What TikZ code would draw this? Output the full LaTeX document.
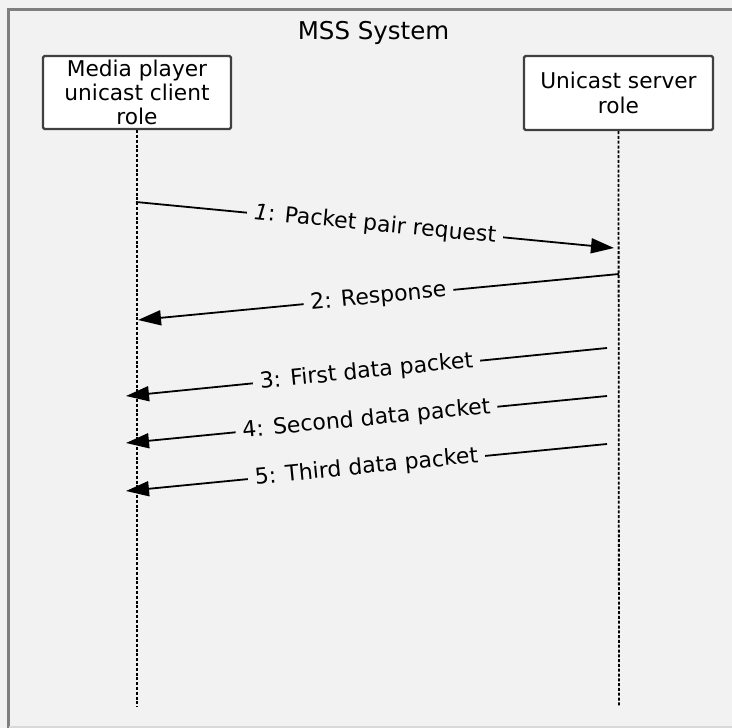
\documentclass[tikz,border=0pt]{standalone}
\usepackage{fontspec}
\setmainfont{DejaVu Sans}
\usetikzlibrary{arrows.meta}
\definecolor{bgc}{HTML}{F2F2F2}
\definecolor{framec}{HTML}{7F7F7F}
\definecolor{boxc}{HTML}{404040}
\tikzset{
  rolebox/.style={draw=boxc, line width=2.2pt, fill=white, rounded corners=1.5pt,
    inner sep=0pt, align=center, font=\fontsize{21.7}{24.3}\selectfont},
  lifeline/.style={line width=1.8pt, dash pattern=on 3pt off 1.8pt},
  msg/.style={line width=1.8pt, -{Triangle[length=23pt,width=15pt]}},
  msglabel/.style={sloped, fill=bgc, inner xsep=7pt, inner ysep=3pt, font=\fontsize{22}{24}\selectfont}
}
\begin{document}
\begin{tikzpicture}[x=1pt,y=-1pt]
\useasboundingbox (0,0) rectangle (732,728);
\fill[bgc] (0,0) rectangle (732,728);
% frame
\draw[framec, line width=3pt] (8.5,740) -- (8.5,9.5) -- (745,9.5);
\draw[black!15, line width=1.5pt] (8.5,727) -- (745,727);
\node[font=\fontsize{24.5}{27}\selectfont] (title) at (373.5,33) {MSS System};
% role boxes
\node[rolebox, minimum width=188pt, minimum height=73pt] (client) at (137,92.5)
  {Media player\\unicast client\\role};
\node[rolebox, minimum width=189pt, minimum height=74pt] (server) at (618.5,93)
  {Unicast server\\role};
% lifeline ends
\coordinate (cEnd) at (137,707);
\coordinate (sEnd) at (619,707);
\draw[lifeline] (client.south) -- (cEnd);
\draw[lifeline] (server.south) -- (sEnd);
% message points
\coordinate (m1s) at (136,202);
\coordinate (m1e) at (614,248);
\coordinate (m2s) at (619,274);
\coordinate (m2e) at (138,320);
\coordinate (m3s) at (607,348);
\coordinate (m3e) at (126,396);
\coordinate (m4s) at (607,396);
\coordinate (m4e) at (126,443);
\coordinate (m5s) at (607,444);
\coordinate (m5e) at (126,491);
\draw[msg] (m1s) -- node[msglabel] (l1) {\textit{1}: Packet pair request} (m1e);
\draw[msg] (m2s) -- node[msglabel] (l2) {2: Response} (m2e);
\draw[msg] (m3s) -- node[msglabel] (l3) {3: First data packet} (m3e);
\draw[msg] (m4s) -- node[msglabel] (l4) {4: Second data packet} (m4e);
\draw[msg] (m5s) -- node[msglabel] (l5) {5: Third data packet} (m5e);
\end{tikzpicture}
\end{document}
